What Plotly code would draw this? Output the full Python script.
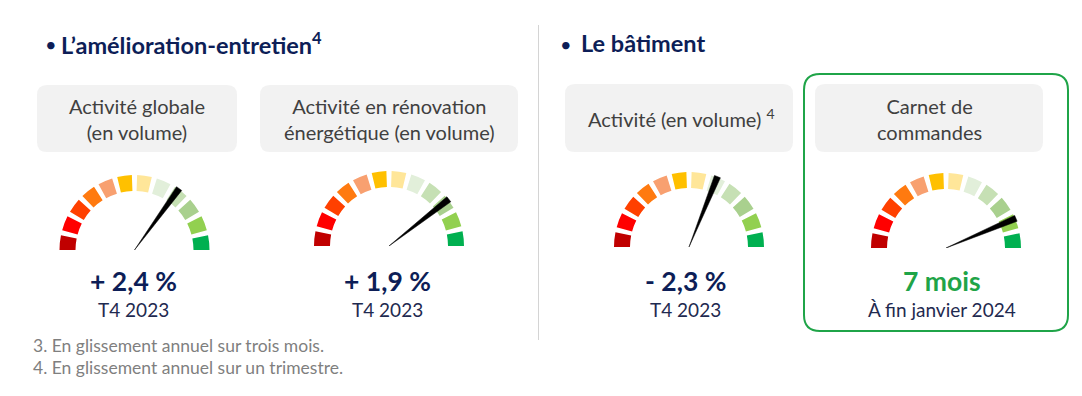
import plotly.graph_objects as go

W, H = 1082, 396

# ---------------- data ----------------
section_titles = ["L’amélioration-entretien<sup>4</sup>", "Le bâtiment"]
gauge_labels = ["Activité globale<br>(en volume)",
                "Activité en rénovation<br>énergétique (en volume)",
                "Activité (en volume) <sup>4</sup>",
                "Carnet de<br>commandes"]
gauge_values = ["+ 2,4 %", "+ 1,9 %", "- 2,3 %", "7 mois"]
gauge_periods = ["T4 2023", "T4 2023", "T4 2023", "À fin janvier 2024"]
needle_angles = [54, 38, 68, 23]   # degrees, measured from the right end of the dial
segment_colors = ["#C00000", "#FF0000", "#FF4000", "#FF7A10", "#F8A070", "#FFC000",
                  "#FFE699", "#E2EFDA", "#C6E0B4", "#A9D08E", "#92D050", "#00B050"]
footnotes = ["3. En glissement annuel sur trois mois.",
             "4. En glissement annuel sur un trimestre."]

# ---------------- layout / style ----------------
FONT = "Lato"
NAVY = "#0D1E57"
GREEN = "#1FA448"
centers = [(134.5, 250), (389, 246), (689, 247), (946, 248)]
R_DOM = 78          # polar domain radius in px (radial range 0..R_DOM)
R_IN, R_OUT = 59, 75
GAP = 4.0
n = len(segment_colors)
seg_w = (180 - GAP * (n - 1)) / n
seg_theta = [180 - seg_w / 2 - i * (seg_w + GAP) for i in range(n)]
label_boxes = [(37, 85, 237, 152), (260, 85, 518, 152), (565, 84, 793, 152), (815, 84, 1043, 152)]
label_text_pos = [(137, 119), (389, 119), (681, 118), (929, 119)]
value_x = [133, 387, 685, 942]
period_x = [133, 387, 685, 942]
value_y, period_y = 281, 309
title_pos = [(51, 59, 43), (566, 579, 43)]   # bullet x, text x, y

fig = go.Figure()

# invisible pixel-space axes for decorations
fig.add_trace(go.Scatter(x=[0, W], y=[0, H], mode="markers", marker=dict(opacity=0),
                         hoverinfo="skip", showlegend=False))

for k, (cx, cy) in enumerate(centers):
    pname = "polar" if k == 0 else f"polar{k+1}"
    fig.add_trace(go.Barpolar(
        r=[R_OUT - R_IN] * n, base=[R_IN] * n, theta=seg_theta, width=[seg_w] * n,
        marker=dict(color=segment_colors, line=dict(width=0)),
        subplot=pname, hoverinfo="skip", showlegend=False))
    a = needle_angles[k]
    d = 2.4
    fig.add_trace(go.Scatterpolar(
        r=[0, R_OUT + 1, R_OUT + 1, 0], theta=[a, a - d, a + d, a],
        mode="lines", fill="toself", fillcolor="black",
        line=dict(color="black", width=0.5),
        subplot=pname, hoverinfo="skip", showlegend=False))
    fig.layout[pname] = dict(
        domain=dict(x=[(cx - R_DOM) / W, (cx + R_DOM) / W],
                    y=[1 - cy / H, 1 - (cy - R_DOM) / H]),
        sector=[0, 180], bgcolor="rgba(0,0,0,0)",
        radialaxis=dict(range=[0, R_DOM], visible=False),
        angularaxis=dict(visible=False, direction="counterclockwise", rotation=0),
        barmode="overlay")

shapes = []
def rrect(x0, y0, x1, y1, r):
    return (f"M{x0+r},{y0} L{x1-r},{y0} Q{x1},{y0} {x1},{y0+r} L{x1},{y1-r} "
            f"Q{x1},{y1} {x1-r},{y1} L{x0+r},{y1} Q{x0},{y1} {x0},{y1-r} "
            f"L{x0},{y0+r} Q{x0},{y0} {x0+r},{y0} Z")

for (x0, y0, x1, y1) in label_boxes:
    shapes.append(dict(type="path", xref="x", yref="y", path=rrect(x0, y0, x1, y1, 10),
                       fillcolor="#F2F2F2", line=dict(width=0), layer="below"))
# green frame around the order-book panel
shapes.append(dict(type="path", xref="x", yref="y", path=rrect(804, 74, 1068, 331, 16),
                   fillcolor="rgba(0,0,0,0)", line=dict(color=GREEN, width=2)))
# divider
shapes.append(dict(type="line", xref="x", yref="y", x0=538.5, x1=538.5, y0=25, y1=340,
                   line=dict(color="#D4D4D4", width=1)))

ann = []
for (bx, tx, ty), t in zip(title_pos, section_titles):
    ann.append(dict(x=bx, y=ty + 1, text="•", xanchor="center", yanchor="middle",
                    font=dict(family=FONT, size=20, color=NAVY)))
    ann.append(dict(x=tx, y=ty, text=f"<b>{t}</b>", xanchor="left", yanchor="middle",
                    font=dict(family=FONT, size=23.5, color=NAVY)))
for k in range(4):
    tx, ty = label_text_pos[k]
    ann.append(dict(x=tx, y=ty, text=gauge_labels[k], xanchor="center", yanchor="middle",
                    font=dict(family=FONT, size=20, color="#404040")))
    vcol = GREEN if k == 3 else NAVY
    ann.append(dict(x=value_x[k], y=value_y, text=f"<b>{gauge_values[k]}</b>", xanchor="center",
                    yanchor="middle", font=dict(family=FONT, size=26.5, color=vcol)))
    ann.append(dict(x=period_x[k], y=period_y, text=gauge_periods[k], xanchor="center",
                    yanchor="middle", font=dict(family=FONT, size=19, color="#1F2A50")))
for i, t in enumerate(footnotes):
    ann.append(dict(x=31, y=345 + 22 * i, text=t, xanchor="left", yanchor="middle",
                    font=dict(family=FONT, size=17.5, color="#7F7F7F")))
for a_ in ann:
    a_.update(xref="x", yref="y", showarrow=False)

fig.update_layout(
    width=W, height=H, margin=dict(l=0, r=0, t=0, b=0),
    paper_bgcolor="white", plot_bgcolor="white",
    xaxis=dict(range=[0, W], visible=False, domain=[0, 1], fixedrange=True),
    yaxis=dict(range=[H, 0], visible=False, domain=[0, 1], fixedrange=True),
    shapes=shapes, annotations=ann, showlegend=False,
)
fig.write_html("out.html", config={"displayModeBar": False},
               post_script="document.body.style.margin='0';document.body.style.overflow='hidden';")
